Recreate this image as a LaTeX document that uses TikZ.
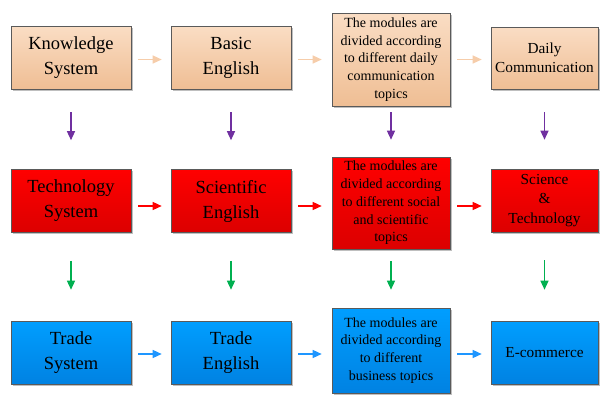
\documentclass[tikz,border=0pt]{standalone}
\usepackage{fontspec}
\setmainfont{Liberation Serif}
\usetikzlibrary{arrows.meta,shadows}
\definecolor{peachtop}{HTML}{FADDC4}
\definecolor{peachbot}{HTML}{EFBE94}
\definecolor{redtop}{HTML}{FF0000}
\definecolor{redbot}{HTML}{DC0000}
\definecolor{bluetop}{HTML}{009EFF}
\definecolor{bluebot}{HTML}{0082E2}
\definecolor{boxline}{HTML}{5A5A5A}
\definecolor{peacharr}{HTML}{F6CDAA}
\definecolor{purplearr}{HTML}{7030A0}
\definecolor{greenarr}{HTML}{00B050}
\definecolor{bluearr}{HTML}{1E96FF}
\newcommand{\bigtxt}{\fontsize{18.5}{25}\selectfont}
\newcommand{\midtxt}{\fontsize{15.3}{19.5}\selectfont}
\newcommand{\smalltxt}{\fontsize{14}{17.8}\selectfont}

\begin{document}
\begin{tikzpicture}[x=1pt,y=-1pt,
  box/.style={draw=boxline,line width=0.6pt,align=center,inner sep=0pt,
    drop shadow={shadow xshift=1.5pt,shadow yshift=-1.5pt,opacity=0.25,fill=black}},
  peach/.style={box,top color=peachtop,bottom color=peachbot},
  redb/.style={box,top color=redtop,bottom color=redbot},
  blueb/.style={box,top color=bluetop,bottom color=bluebot},
  wide/.style={minimum width=120pt,minimum height=63pt},
  arr/.style={-{Triangle[length=9pt,width=8pt]},line width=1.3pt}]
\useasboundingbox (0,0) rectangle (603,394);
% first row
\node[peach,wide,font=\bigtxt] (k1) at (71,57.5) {Knowledge\\System};
\node[peach,wide,font=\bigtxt] (k2) at (231,57.5) {Basic\\English};
\node[peach,minimum width=118pt,minimum height=93pt,font=\smalltxt] (k3) at (391,59.5)
  {The modules are\\divided according\\to different daily\\communication\\topics};
\node[peach,minimum width=107pt,minimum height=62pt,font=\midtxt] (k4) at (544.5,58) {Daily\\Communication};
% second row
\node[redb,wide,font=\bigtxt] (t1) at (71,201) {Technology\\System};
\node[redb,wide,font=\bigtxt] (t2) at (231,201) {Scientific\\English};
\node[redb,minimum width=118pt,minimum height=92pt,font=\smalltxt] (t3) at (391,203)
  {The modules are\\divided according\\to different social\\and scientific\\topics};
\node[redb,minimum width=107pt,minimum height=63pt,font=\midtxt] (t4) at (544.5,200.5) {Science\\\&\\Technology};
% third row
\node[blueb,wide,font=\bigtxt] (r1) at (71,352.5) {Trade\\System};
\node[blueb,wide,font=\bigtxt] (r2) at (231,352.5) {Trade\\English};
\node[blueb,minimum width=118pt,minimum height=85pt,font=\smalltxt] (r3) at (391,350.5)
  {The modules are\\divided according\\to different\\business topics};
\node[blueb,minimum width=107pt,minimum height=63pt,font=\midtxt] (r4) at (544.5,352.5) {E-commerce};
% horizontal arrows
\draw[arr,peacharr,shorten <=7pt,shorten >=9pt] ([yshift=-2pt]k1.east) -- ([yshift=-2pt]k1.east -| k2.west);
\draw[arr,peacharr,shorten <=7pt,shorten >=10pt] ([yshift=-2pt]k2.east) -- ([yshift=-2pt]k2.east -| k3.west);
\draw[arr,peacharr,shorten <=7pt,shorten >=9pt] (k3.east) -- (k3.east -| k4.west);
\draw[arr,red,shorten <=7pt,shorten >=9pt] ([yshift=-5pt]t1.east) -- ([yshift=-5pt]t1.east -| t2.west);
\draw[arr,red,shorten <=7pt,shorten >=10pt] ([yshift=-5pt]t2.east) -- ([yshift=-5pt]t2.east -| t3.west);
\draw[arr,red,shorten <=7pt,shorten >=9pt] ([yshift=-3pt]t3.east) -- ([yshift=-3pt]t3.east -| t4.west);
\draw[arr,bluearr,shorten <=7pt,shorten >=9pt] ([yshift=-1.5pt]r1.east) -- ([yshift=-1.5pt]r1.east -| r2.west);
\draw[arr,bluearr,shorten <=7pt,shorten >=10pt] ([yshift=-1.5pt]r2.east) -- ([yshift=-1.5pt]r2.east -| r3.west);
\draw[arr,bluearr,shorten <=7pt,shorten >=9pt] ([yshift=-3.5pt]r3.east) -- ([yshift=-3.5pt]r3.east -| r4.west);
% vertical arrows
\draw[arr,purplearr,shorten <=23pt,shorten >=29pt] (k1) -- (t1);
\draw[arr,purplearr,shorten <=23pt,shorten >=29pt] (k2) -- (t2);
\draw[arr,purplearr,shorten <=6pt,shorten >=17pt] (k3) -- (t3);
\draw[arr,purplearr,shorten <=23pt,shorten >=29pt] (k4) -- (t4);
\draw[arr,greenarr,shorten <=28pt,shorten >=31pt] (t1) -- (r1);
\draw[arr,greenarr,shorten <=28pt,shorten >=31pt] (t2) -- (r2);
\draw[arr,greenarr,shorten <=12pt,shorten >=18pt] (t3) -- (r3);
\draw[arr,greenarr,shorten <=28pt,shorten >=31pt] (t4) -- (r4);
\end{tikzpicture}
\end{document}
